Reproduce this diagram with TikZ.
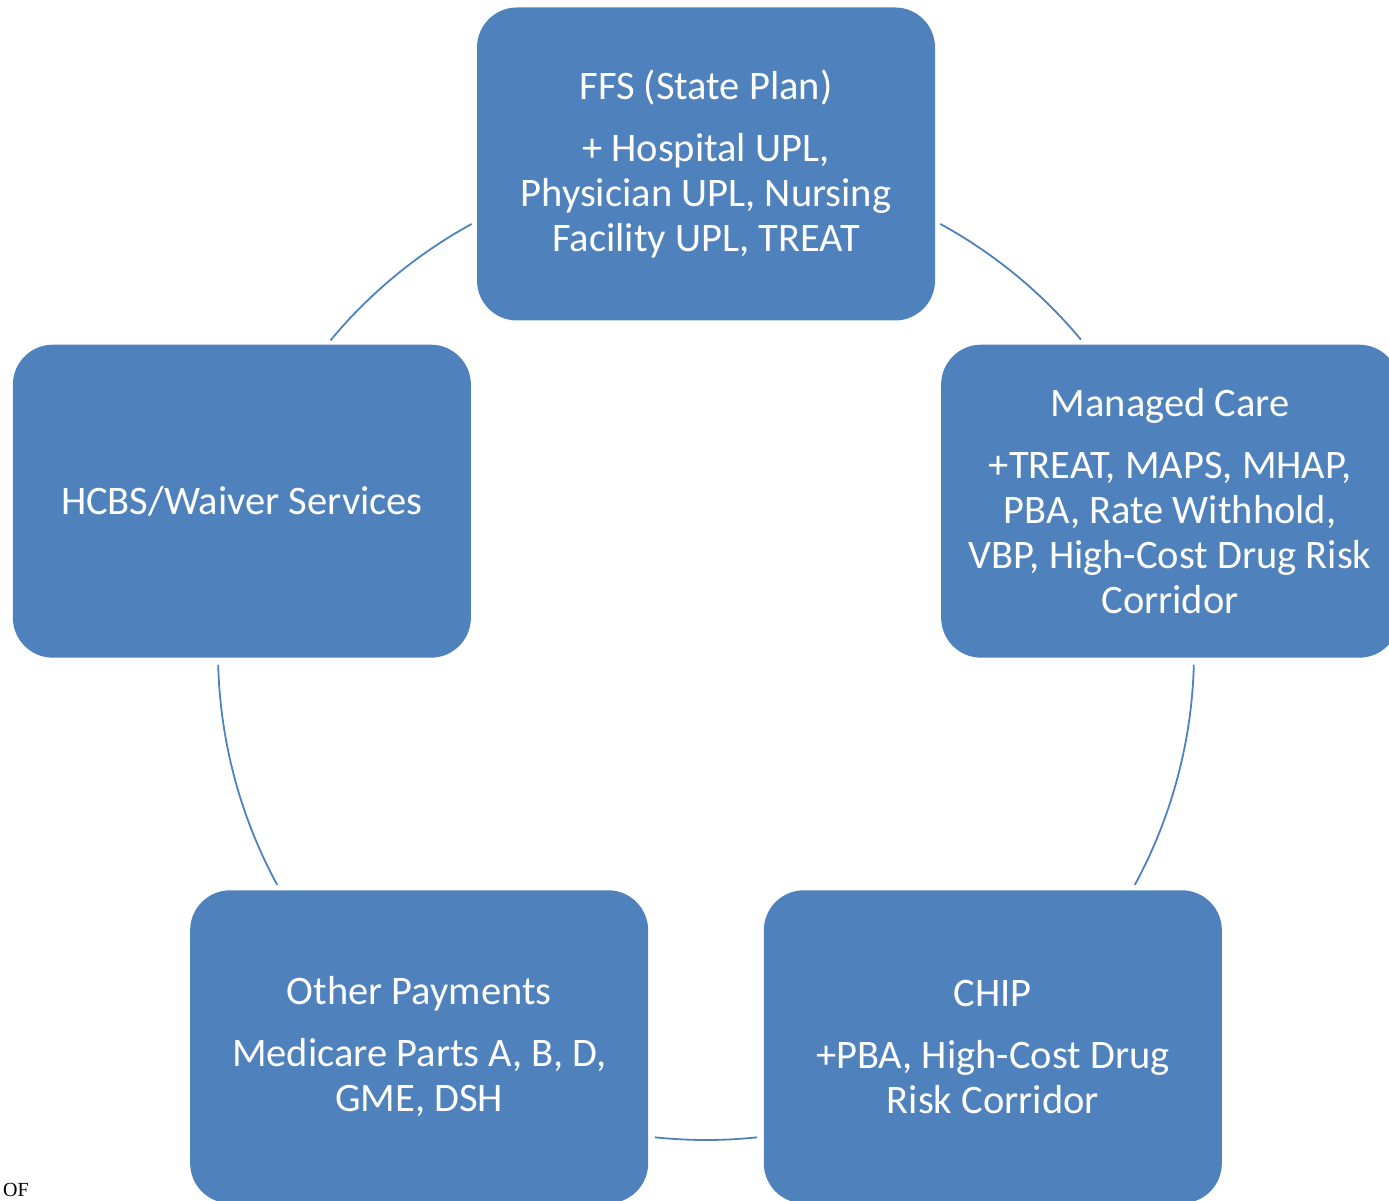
\documentclass[tikz,border=0pt]{standalone}
\usepackage{fontspec}
\setmainfont{Carlito}
\newfontfamily\notefont{Liberation Serif}
\definecolor{boxblue}{HTML}{4F81BD}

\begin{document}
\begin{tikzpicture}[x=1pt, y=1pt,
  cyclebox/.style = {shape=rectangle, rounded corners=40pt, fill=boxblue, text=white,
    align=center, minimum width=458pt, minimum height=313pt, inner sep=0pt,
    font=\fontsize{40.5}{45}\selectfont},
  cyclearc/.style = {draw=boxblue, line width=1.8pt}]
  \useasboundingbox (0,0) rectangle (1389,1201);
  \coordinate (ctr) at (706,549);
  \node[cyclebox] (ffs) at ([shift={(90:488)}]ctr)
    {FFS (State Plan)\\[17pt] + Hospital UPL,\\ Physician UPL, Nursing\\ Facility UPL, TREAT};
  \node[cyclebox] (managed) at ([shift={(18:488)}]ctr)
    {Managed Care\\[17pt] +TREAT, MAPS, MHAP,\\ PBA, Rate Withhold,\\ VBP, High-Cost Drug Risk\\ Corridor};
  \node[cyclebox] (chip) at ([shift={(306:488)}]ctr)
    {CHIP\\[17pt] +PBA, High-Cost Drug\\ Risk Corridor};
  \node[cyclebox] (other) at ([shift={(234:488)}]ctr)
    {Other Payments\\[17pt] Medicare Parts A, B, D,\\ GME, DSH};
  \node[cyclebox] (hcbs) at ([shift={(162:488)}]ctr)
    {HCBS/Waiver Services};
  % arcs between the boxes
  \draw[cyclearc] ([shift={(61.3:488)}]ctr) arc[start angle=61.3, end angle=39.8, radius=488];
  \draw[cyclearc] ([shift={(-1.5:488)}]ctr) arc[start angle=-1.5, end angle=-28.5, radius=488];
  \draw[cyclearc] ([shift={(-84:488)}]ctr) arc[start angle=-84, end angle=-96, radius=488];
  \draw[cyclearc] ([shift={(208.5:488)}]ctr) arc[start angle=208.5, end angle=181.5, radius=488];
  \draw[cyclearc] ([shift={(140.3:488)}]ctr) arc[start angle=140.3, end angle=118.7, radius=488];
  \node[anchor=base west, inner sep=0pt, font=\notefont\fontsize{20}{24}\selectfont] (note) at (3,4) {OF};
\end{tikzpicture}
\end{document}
